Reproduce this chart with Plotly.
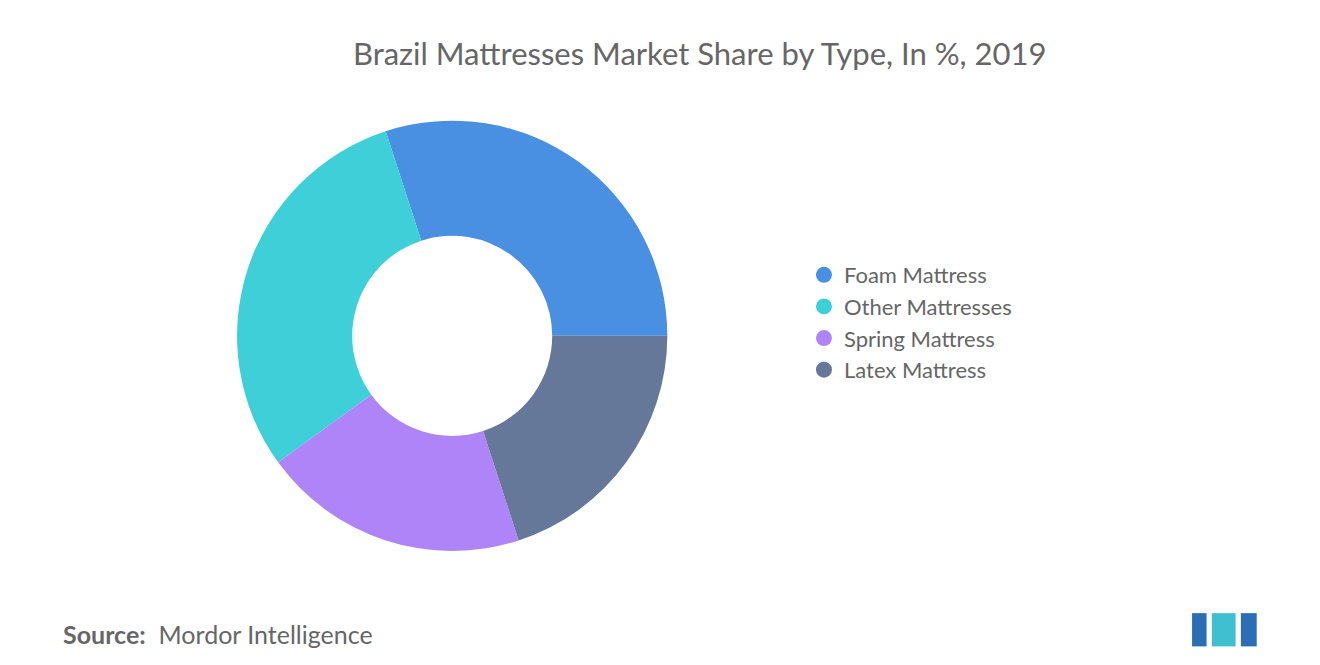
import plotly.graph_objects as go

labels = ["Foam Mattress", "Other Mattresses", "Spring Mattress", "Latex Mattress"]
values = [30, 30, 20, 20]
colors = ["#4a90e2", "#3ecfd9", "#b084f9", "#657899"]

fig = go.Figure(go.Pie(
    labels=labels, values=values, hole=0.465, sort=False,
    direction="counterclockwise", rotation=-18,
    marker=dict(colors=colors, line=dict(width=0)),
    textinfo="none", hoverinfo="label+percent", showlegend=False,
    domain=dict(x=[0.1735, 0.4995], y=[0.1835, 0.8305]),
))
for lab, col in zip(labels, colors):
    fig.add_trace(go.Scatter(x=[None], y=[None], mode="markers", name=lab,
                             marker=dict(symbol="circle", size=24, color=col)))
fig.update_layout(
    width=1320, height=665, paper_bgcolor="white", plot_bgcolor="white",
    margin=dict(l=0, r=0, t=0, b=0),
    xaxis=dict(visible=False), yaxis=dict(visible=False),
    font=dict(family="Lato, Open Sans, sans-serif", color="#666666"),
    title=dict(text="Brazil Mattresses Market Share by Type, In %, 2019",
               x=0.524, xanchor="center", y=0.93, yanchor="middle",
               font=dict(size=31, color="#666666")),
    legend=dict(x=0.603, y=0.63, xanchor="left", yanchor="top",
                font=dict(size=22, color="#666666"), itemwidth=30,
                tracegroupgap=0),
    annotations=[dict(text="<b>Source:</b>  Mordor Intelligence", x=0.040, y=0.058,
                      xref="paper", yref="paper", xanchor="left", yanchor="middle",
                      showarrow=False, font=dict(size=25, color="#666666"))],
    shapes=[
        dict(type="rect", x0=0.897, x1=0.908, y0=0.04, y1=0.09, xref="paper", yref="paper", fillcolor="#2c6eb5", line=dict(width=0)),
        dict(type="rect", x0=0.912, x1=0.930, y0=0.04, y1=0.09, xref="paper", yref="paper", fillcolor="#3fbfcf", line=dict(width=0)),
        dict(type="rect", x0=0.934, x1=0.946, y0=0.04, y1=0.09, xref="paper", yref="paper", fillcolor="#2c6eb5", line=dict(width=0)),
    ],
)
fig.write_html("out.html")
